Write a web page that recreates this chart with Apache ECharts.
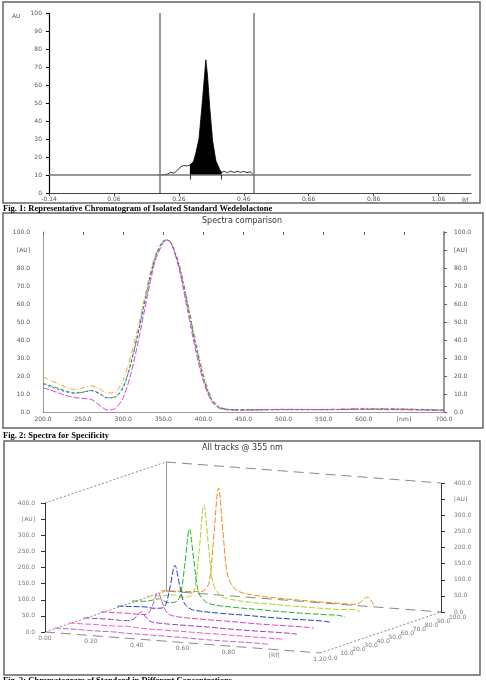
<!DOCTYPE html>
<html style="height: 100%">
<head>
<meta charset="utf-8">
</head>
<body style="height: 100%; margin: 0; background: #fff">
<div id="container" style="width: 486px; height: 680px"></div>
<script src="https://cdn.jsdelivr.net/npm/echarts@6/dist/echarts.min.js"></script>
<script>
// ---- Fig. 1 : densitogram of the isolated standard ----
var chromRf = [0.195, 0.21, 0.225, 0.235, 0.245, 0.255, 0.265, 0.275, 0.285, 0.294, 0.305, 0.312, 0.322, 0.331, 0.339, 0.343,
               0.348, 0.355, 0.364, 0.374, 0.386, 0.392, 0.40, 0.41, 0.42, 0.43, 0.44, 0.45, 0.46, 0.47, 0.48, 0.488];
var chromAu = [10, 10.2, 10.5, 11.5, 11, 12.5, 14.5, 15.3, 15, 15.5, 17.5, 22, 30, 48, 65, 74,
               66, 48, 29, 18, 13, 11.5, 12, 11.3, 12.2, 11.4, 12.1, 11.5, 12, 11.3, 11.8, 10.5];
var peakStart = 0.294, peakEnd = 0.392;
var cursorRf = [0.195, 0.49];
var baseAu = 10;

// ---- Fig. 2 : spectra comparison ----
var waveNm = [200, 210, 220, 230, 240, 250, 260, 270, 280, 290, 300, 310, 320, 330, 340, 350, 355, 360, 370, 380, 390, 400, 410, 420, 430, 450, 500, 550, 600, 650, 700];
var specOrange = [19.5, 17.5, 15.5, 13.5, 12.5, 13.5, 14.5, 13, 10.5, 11, 18, 32, 50, 70, 87, 95, 95.5, 94, 82, 62, 40, 21, 8, 3, 1.5, 1.2, 1.4, 1.5, 2, 1.8, 1];
var specGreen = [16, 14.5, 13, 11.5, 10.5, 11, 12, 10.5, 8, 8.5, 14, 28, 47, 68, 86, 95, 95.5, 93.5, 80, 60, 38, 19, 7, 2.5, 1.5, 1.2, 1.3, 1.3, 1.6, 1.5, 1];
var specBlue = [15.5, 14, 12.5, 11, 10.5, 11, 11.8, 10.2, 7.8, 8.2, 13.5, 27.5, 46.5, 67, 85.5, 95, 95.5, 93.5, 81, 60, 38, 19, 7, 2.5, 1.5, 1.2, 1.3, 1.3, 1.6, 1.5, 1];
var specMagenta = [13.5, 12, 10.5, 9, 8, 7.5, 7, 4, 1.2, 2, 8, 22, 42, 64, 84, 94, 95.5, 94, 79, 57, 35, 17, 6, 2, 1.2, 1, 1.5, 1.3, 1.4, 1.2, 0.8];

// ---- Fig. 3 : all tracks @ 355 nm ----
var trackRf = [0.00, 0.06, 0.12, 0.16, 0.19, 0.21, 0.23, 0.25, 0.27, 0.29, 0.32, 0.36, 0.45, 0.55, 0.65, 0.75, 0.85, 0.90, 0.93];
var trackPos = [8, 20, 32, 46, 60, 72, 84, 96];   // mm
var trackAu = [
    [2, 3, 3, 3, 3, 3, 4, 4, 4, 3, 3, 3, 3, 3, 2, 2, 3, 3, 2],
    [3, 3, 4, 3, 4, 4, 5, 6, 5, 4, 3, 3, 3, 3, 3, 3, 3, 3, 3],
    [3, 4, 5, 4, 5, 8, 20, 35, 21, 8, 5, 4, 4, 4, 3, 3, 4, 4, 3],
    [4, 5, 6, 5, 6, 12, 44, 78, 46, 16, 8, 6, 5, 5, 4, 4, 5, 5, 4],
    [4, 6, 8, 6, 8, 20, 80, 144, 85, 30, 12, 8, 6, 6, 5, 5, 6, 6, 4],
    [5, 7, 18, 8, 12, 32, 130, 241, 140, 48, 20, 12, 9, 8, 7, 7, 8, 9, 5],
    [5, 8, 15, 10, 15, 40, 165, 300, 175, 60, 25, 15, 10, 9, 8, 8, 9, 12, 6],
    [6, 8, 10, 12, 18, 45, 190, 338, 200, 70, 30, 18, 12, 10, 9, 9, 10, 35, 8]
];
var rfTicks = [0, 0.2, 0.4, 0.6, 0.8, 1.0, 1.2];
var posTicks = [0, 10, 20, 30, 40, 50, 60, 70, 80, 90, 100];
var auTicks = [0, 50, 100, 150, 200, 250, 300, 350, 400];

var trackColors = ['#c060e0', '#ff55cc', '#9a3fc8', '#e040d0', '#2040c0', '#22b030', '#a8d820', '#f08a20'];

// 3D box: projection of (Rf, position, AU) onto the page
var box = { ox: 45, oy: 632, rfX: 229.2, rfY: 17.5, pX: 1.21, pY: -0.41, auY: -0.3225 };
function proj(rf, pos, au) {
    return [box.ox + rf * box.rfX + pos * box.pX, box.oy + rf * box.rfY + pos * box.pY + au * box.auY];
}

var dom = document.getElementById('container');
var myChart = echarts.init(dom, null, { renderer: 'canvas' });

var tickFont = { fontFamily: 'DejaVu Sans', fontSize: 6, color: '#555' };

function zip(xs, ys) {
    return xs.map(function (x, i) { return [x, ys[i]]; });
}

var peakPart = zip(chromRf, chromAu).filter(function (p) { return p[0] >= peakStart && p[0] <= peakEnd; });

// 3D frame
var rfMax = 1.2, posMax = 100, auMax = 400;
var frameDash = [
    [proj(0, 0, 0), proj(rfMax, 0, 0)],
    [proj(0, posMax, 0), proj(rfMax, posMax, 0)],
    [proj(0, posMax, auMax), proj(rfMax, posMax, auMax)]
];
var frameDot = [
    [proj(0, 0, auMax), proj(0, posMax, auMax)],
    [proj(0, 0, 0), proj(0, posMax, 0)],
    [proj(rfMax, 0, 0), proj(rfMax, posMax, 0)]
];
var frameSolid = [
    [proj(0, 0, 0), proj(0, 0, auMax)],
    [proj(rfMax, posMax, 0), proj(rfMax, posMax, auMax)]
];
var frameGray = [
    [proj(0, posMax, 0), proj(0, posMax, auMax)]
];
auTicks.forEach(function (a) {
    var p = proj(0, 0, a), q = proj(rfMax, posMax, a);
    frameSolid.push([[p[0] - 4, p[1]], p]);
    frameSolid.push([q, [q[0] + 4, q[1]]]);
});

var labels3d = [];
rfTicks.forEach(function (r) {
    var p = proj(r, 0, 0);
    labels3d.push({ value: [p[0], p[1] + 6], name: r === 1.0 ? '[Rf]' : r.toFixed(2), align: 'center' });
});
posTicks.forEach(function (t) {
    var p = proj(rfMax, t, 0);
    labels3d.push({ value: [p[0] + 8, p[1] + 5], name: t.toFixed(1), align: 'left' });
});
auTicks.forEach(function (a) {
    var p = proj(0, 0, a), q = proj(rfMax, posMax, a);
    var txt = a === 350 ? '[AU]' : a.toFixed(1);
    labels3d.push({ value: [p[0] - 10, p[1]], name: txt, align: 'right' });
    labels3d.push({ value: [q[0] + 13, q[1]], name: txt, align: 'left' });
});

var trackSeries = trackAu.map(function (vals, k) {
    return {
        type: 'line', xAxisIndex: 3, yAxisIndex: 3, z: 3 + (trackAu.length - k),
        data: trackRf.map(function (r, i) { return proj(r, trackPos[k], vals[i]); }),
        showSymbol: false, smooth: 0.35,
        lineStyle: { color: trackColors[k], width: 1, type: [6, 2] }
    };
});

function lineItems(list) {
    return list.map(function (c) { return { coords: c }; });
}

var option = {
    animation: false,
    backgroundColor: '#fff',
    textStyle: { fontFamily: 'DejaVu Sans' },
    graphic: [
        { type: 'rect', shape: { x: 3, y: 2, width: 477, height: 201 }, style: { fill: 'none', stroke: '#666', lineWidth: 1.5 } },
        { type: 'rect', shape: { x: 3, y: 213, width: 480, height: 215 }, style: { fill: 'none', stroke: '#666', lineWidth: 1.5 } },
        { type: 'rect', shape: { x: 4, y: 441, width: 476, height: 234 }, style: { fill: 'none', stroke: '#666', lineWidth: 1.5 } },
        { type: 'text', left: 3, top: 204, style: { text: 'Fig. 1: Representative Chromatogram of Isolated Standard Wedelolactone', font: 'bold 8.5px "Liberation Serif"', fill: '#000' } },
        { type: 'text', left: 3, top: 431, style: { text: 'Fig. 2: Spectra for Specificity', font: 'bold 8.5px "Liberation Serif"', fill: '#000' } },
        { type: 'text', left: 3, top: 676, style: { text: 'Fig. 3: Chromatogram of Standard in Different Concentrations', font: 'bold 8.5px "Liberation Serif"', fill: '#000' } },
        { type: 'text', left: 12, top: 13, style: { text: 'AU', font: '6px "DejaVu Sans"', fill: '#555' } },
        { type: 'text', left: 462, top: 197, style: { text: 'Rf', font: '6px "DejaVu Sans"', fill: '#555' } },
        { type: 'text', left: 202, top: 217, style: { text: 'Spectra comparison', font: '8px "DejaVu Sans"', fill: '#333' } },
        { type: 'text', left: 202, top: 444, style: { text: 'All tracks @ 355 nm', font: '8px "DejaVu Sans"', fill: '#333' } }
    ],
    grid: [
        { left: 49, top: 13, width: 422, height: 180 },
        { left: 43, top: 232, width: 401, height: 180 },
        { left: 0, top: 0, width: 486, height: 680 }
    ],
    xAxis: [
        {
            gridIndex: 0, type: 'value', min: -0.14, max: 1.16, interval: 0.2,
            axisLine: { onZero: false, lineStyle: { color: '#444', width: 1 } },
            axisTick: { length: 3, lineStyle: { color: '#444' } },
            splitLine: { show: false },
            axisLabel: Object.assign({ margin: 3, showMaxLabel: false, formatter: function (v) { return v.toFixed(2); } }, tickFont)
        },
        {
            gridIndex: 1, type: 'value', min: 200, max: 700, interval: 50,
            axisLine: { onZero: false, lineStyle: { color: '#999', width: 1 } },
            axisTick: { show: false },
            splitLine: { show: false },
            axisLabel: Object.assign({ margin: 4, formatter: function (v) { return v === 650 ? '[nm]' : v.toFixed(1); } }, tickFont)
        },
        {
            gridIndex: 1, type: 'value', position: 'top', min: 200, max: 700, interval: 50,
            axisLine: { show: false, onZero: false },
            axisTick: { inside: true, length: 3, lineStyle: { color: '#666' } },
            axisLabel: { show: false },
            splitLine: { show: false }
        },
        { gridIndex: 2, type: 'value', min: 0, max: 486, show: false }
    ],
    yAxis: [
        {
            gridIndex: 0, type: 'value', min: 0, max: 100, interval: 10,
            axisLine: { show: true, onZero: false, lineStyle: { color: '#000', width: 1.2 } },
            axisTick: { show: true, length: 3, lineStyle: { color: '#000' } },
            splitLine: { show: false },
            axisLabel: Object.assign({ margin: 7 }, tickFont)
        },
        {
            gridIndex: 1, type: 'value', min: 0, max: 100, interval: 10,
            axisLine: { show: true, onZero: false, lineStyle: { color: '#999', width: 1 } },
            axisTick: { show: false },
            splitLine: { show: false },
            axisLabel: Object.assign({ margin: 13, formatter: function (v) { return v === 90 ? '[AU]' : v.toFixed(1); } }, tickFont)
        },
        {
            gridIndex: 1, type: 'value', position: 'right', min: 0, max: 100, interval: 10,
            axisLine: { show: true, onZero: false, lineStyle: { color: '#999', width: 2 } },
            axisTick: { show: true, length: 3, lineStyle: { color: '#666' } },
            splitLine: { show: false },
            axisLabel: Object.assign({ margin: 10, formatter: function (v) { return v === 90 ? '[AU]' : v.toFixed(1); } }, tickFont)
        },
        { gridIndex: 2, type: 'value', min: 0, max: 680, inverse: true, show: false }
    ],
    series: [
        {
            type: 'line', xAxisIndex: 0, yAxisIndex: 0, data: peakPart, showSymbol: false,
            lineStyle: { width: 0 }, areaStyle: { color: '#000', opacity: 1, origin: baseAu }, z: 2
        },
        {
            type: 'line', xAxisIndex: 0, yAxisIndex: 0, data: zip(chromRf, chromAu), showSymbol: false,
            lineStyle: { color: '#000', width: 0.8 }, z: 3,
            markLine: {
                silent: true, symbol: 'none', label: { show: false },
                lineStyle: { color: '#777', width: 1.5, type: 'solid' },
                data: [
                    { yAxis: baseAu },
                    { xAxis: cursorRf[0] },
                    { xAxis: cursorRf[1] },
                    [{ coord: [peakStart, baseAu], lineStyle: { color: '#000', width: 0.8 } }, { coord: [peakStart, baseAu - 2.5] }],
                    [{ coord: [peakEnd, baseAu], lineStyle: { color: '#000', width: 0.8 } }, { coord: [peakEnd, baseAu - 2.5] }]
                ]
            }
        },
        {
            type: 'line', xAxisIndex: 1, yAxisIndex: 1, data: zip(waveNm, specOrange), showSymbol: false, smooth: 0.3,
            lineStyle: { color: '#f0a030', width: 1, type: [5, 2, 1, 2] }
        },
        {
            type: 'line', xAxisIndex: 1, yAxisIndex: 1, data: zip(waveNm, specGreen), showSymbol: false, smooth: 0.3,
            lineStyle: { color: '#30b040', width: 1, type: [4, 2] }
        },
        {
            type: 'line', xAxisIndex: 1, yAxisIndex: 1, data: zip(waveNm, specBlue), showSymbol: false, smooth: 0.3,
            lineStyle: { color: '#2a5fc0', width: 1, type: [2, 3] }
        },
        {
            type: 'line', xAxisIndex: 1, yAxisIndex: 1, data: zip(waveNm, specMagenta), showSymbol: false, smooth: 0.3,
            lineStyle: { color: '#e040e0', width: 1, type: [6, 2] }
        },
        {
            type: 'lines', coordinateSystem: 'cartesian2d', xAxisIndex: 3, yAxisIndex: 3, silent: true,
            data: lineItems(frameDash), lineStyle: { color: '#888', width: 1, type: [10, 6], opacity: 1 }
        },
        {
            type: 'lines', coordinateSystem: 'cartesian2d', xAxisIndex: 3, yAxisIndex: 3, silent: true,
            data: lineItems(frameDot), lineStyle: { color: '#888', width: 1, type: [2, 2], opacity: 1 }
        },
        {
            type: 'lines', coordinateSystem: 'cartesian2d', xAxisIndex: 3, yAxisIndex: 3, silent: true,
            data: lineItems(frameSolid), lineStyle: { color: '#333', width: 1, type: 'solid', opacity: 1 }
        },
        {
            type: 'lines', coordinateSystem: 'cartesian2d', xAxisIndex: 3, yAxisIndex: 3, silent: true,
            data: lineItems(frameGray), lineStyle: { color: '#999', width: 1, type: 'solid', opacity: 1 }
        },
        {
            type: 'scatter', xAxisIndex: 3, yAxisIndex: 3, symbolSize: 0, silent: true,
            data: labels3d.map(function (l) {
                return {
                    value: l.value, name: l.name,
                    label: { show: true, position: 'inside', formatter: '{b}', align: l.align, verticalAlign: 'middle',
                             fontFamily: 'DejaVu Sans', fontSize: 6, color: '#555' }
                };
            })
        }
    ].concat(trackSeries)
};

myChart.setOption(option);
</script>
</body>
</html>
